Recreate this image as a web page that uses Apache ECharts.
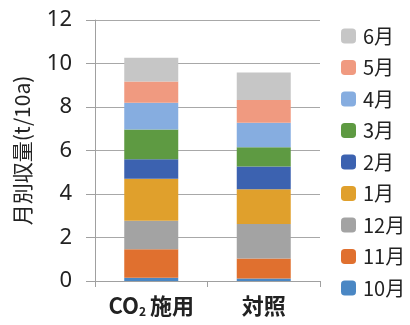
<!DOCTYPE html>
<html>
<head>
<meta charset="utf-8">
<script src="https://cdn.jsdelivr.net/npm/echarts@6/dist/echarts.min.js"></script>
<style>
html,body{margin:0;padding:0;background:#fff;}
#chart{width:410px;height:325px;}
</style>
</head>
<body>
<div id="chart"></div>
<script>
// Monthly yield (t/10a), stacked from October (bottom) to June (top)
const categories = ['CO2施用', '対照'];
const months = ['10月', '11月', '12月', '1月', '2月', '3月', '4月', '5月', '6月'];
const oct = [0.15, 0.12];
const nov = [1.31, 0.92];
const dec = [1.31, 1.58];
const jan = [1.93, 1.60];
const feb = [0.90, 1.04];
const mar = [1.37, 0.89];
const apr = [1.22, 1.13];
const may = [0.98, 1.04];
const jun = [1.10, 1.27];
const yTicks = [0, 2, 4, 6, 8, 10, 12];

const seriesValues = [oct, nov, dec, jan, feb, mar, apr, may, jun];
const colors = ['#4a87c4', '#e0702f', '#a3a3a3', '#e0a02c', '#3c62b0',
                '#5e9a42', '#86ade0', '#f09a80', '#c6c6c6'];

const chart = echarts.init(document.getElementById('chart'));
chart.setOption({
  backgroundColor: '#fff',
  animation: false,
  grid: { left: 95, right: 90, top: 20, bottom: 44 },
  legend: {
    orient: 'vertical',
    left: 336,
    top: 21,
    itemWidth: 15,
    itemHeight: 15,
    itemGap: 11.5,
    data: months.slice().reverse(),
    textStyle: { fontSize: 20, color: '#222', fontFamily: 'Noto Sans CJK JP', padding: [0, 0, 0, 2] }
  },
  xAxis: {
    type: 'category',
    data: categories,
    axisLine: { lineStyle: { color: '#a0a0a0', width: 1 } },
    axisTick: { show: true, length: 6, lineStyle: { color: '#a0a0a0' } },
    axisLabel: {
      interval: 0,
      margin: 14,
      formatter: function (v) {
        return v === 'CO2施用' ? '{t|CO}{s|2}{t|施用}' : '{t|' + v + '}';
      },
      rich: {
        t: { fontSize: 22, fontWeight: 'bold', color: '#222', fontFamily: 'Noto Sans CJK JP' },
        s: { fontSize: 12, fontWeight: 'bold', color: '#222', fontFamily: 'Noto Sans CJK JP', padding: [10, 4, 0, 0] }
      }
    }
  },
  yAxis: {
    type: 'value',
    min: yTicks[0],
    max: yTicks[yTicks.length - 1],
    interval: 2,
    name: '月別収量(t/10a)',
    nameLocation: 'middle',
    nameGap: 62,
    nameTextStyle: { fontSize: 21, color: '#222', fontFamily: 'Noto Sans CJK JP' },
    axisLine: { show: true, lineStyle: { color: '#a0a0a0', width: 1 } },
    axisTick: { show: true, length: 9, lineStyle: { color: '#a0a0a0' } },
    axisLabel: { margin: 23, fontSize: 22, color: '#222', fontFamily: 'Noto Sans' },
    splitLine: { lineStyle: { color: '#a8a8a8', width: 1 } }
  },
  series: months.map(function (m, i) {
    return {
      name: m,
      type: 'bar',
      stack: 'total',
      barWidth: '48%',
      itemStyle: { color: colors[i] },
      data: seriesValues[i]
    };
  })
});
</script>
</body>
</html>
